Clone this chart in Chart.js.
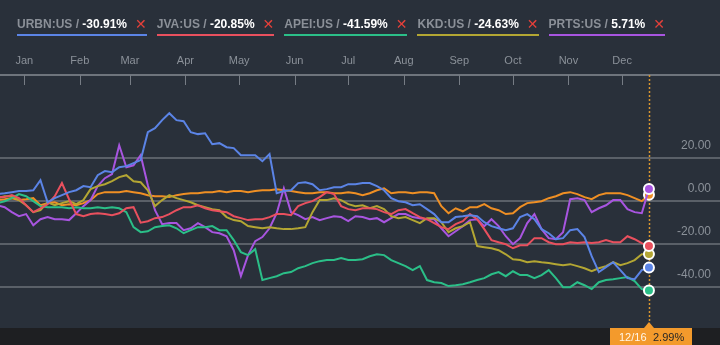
<!DOCTYPE html>
<html>
<head>
<meta charset="utf-8">
<script src="https://cdn.jsdelivr.net/npm/chart.js@4.4.1/dist/chart.umd.min.js"></script>
<style>
    html, body { margin: 0; padding: 0; background: #29303a; width: 720px; height: 345px; overflow: hidden; }
    #wrap { position: relative; width: 720px; height: 345px; }
    #chart { position: absolute; left: 0; top: 0; }
    #legend {
        position: absolute; left: 17px; top: 16px; z-index: 2;
        display: flex; gap: 10px;
        font: bold 12px "Liberation Sans", Arial, sans-serif; line-height: 15px;
    }
    .item { display: flex; align-items: center; padding-bottom: 2px; border-bottom: 2px solid; white-space: pre; }
    .tk { color: #8b9098; }
    .val { color: #ffffff; }
    .x { color: #e5403a; margin-left: 8px; font: bold 14px "DejaVu Sans", sans-serif; }
</style>
</head>
<body>
<div id="wrap">
    <canvas id="chart" width="720" height="345"></canvas>
    <div id="legend"></div>
</div>
<script>
// sample dates, as day offsets from Jan 1 (every 4 days, Dec 16 prev year .. Dec 16)
const days = [-15, -11, -7, -3, 1, 5, 9, 13, 17, 21, 25, 29, 33, 37, 41, 45, 49, 53, 57, 61,
    65, 69, 73, 77, 81, 85, 89, 93, 97, 101, 105, 109, 113, 117, 121, 125, 129, 133, 137, 141,
    145, 149, 153, 157, 161, 165, 169, 173, 177, 181, 185, 189, 193, 197, 201, 205, 209, 213, 217, 221,
    225, 229, 233, 237, 241, 245, 249, 253, 257, 261, 265, 269, 273, 277, 281, 285, 289, 293, 297, 301,
    305, 309, 313, 317, 321, 325, 329, 333, 337, 341, 345, 349];

const monthStarts = [0, 31, 59, 90, 120, 151, 181, 212, 243, 273, 304, 334];
const monthNames = ['Jan', 'Feb', 'Mar', 'Apr', 'May', 'Jun', 'Jul', 'Aug', 'Sep', 'Oct', 'Nov', 'Dec'];
const yTicks = [-40, -20, 0, 20];

// % change series
const urbn = [3.3, 3.7, 4.2, 4.7, 4.7, 5.1, 9.8, -0.5, 1.4, 2.8,
    4.2, 5.1, 7.0, 6.5, 12.1, 14.0, 13.5, 15.8, 16.3, 17.7,
    19.1, 32.1, 34.0, 37.7, 40.9, 37.7, 37.2, 32.1, 31.2, 31.6,
    26.5, 27.0, 25.1, 24.7, 21.4, 21.4, 21.4, 18.6, 21.9, 3.7,
    4.7, 5.1, 8.4, 8.8, 7.9, 5.1, 5.6, 6.5, 6.5, 7.9,
    7.9, 8.4, 8.4, 7.0, 5.1, 1.4, 0, -0.5, -1.9, -1.4,
    -3.7, -6.0, -9.8, -9.8, -7.4, -7.0, -6.5, -7.0, -9.8, -11.6,
    -12.6, -13.5, -12.6, -7.4, -6.0, -8.4, -13.0, -14.9, -17.7, -17.2,
    -13.5, -13.0, -16.7, -25.6, -33.0, -30.7, -28.4, -32.1, -35.8, -36.3,
    -32.1, -30.91];

const jva = [1.9, 1.9, 2.8, 1.4, -1.9, -5.1, -3.3, -1.4, 2.3, 8.4,
    0.9, -6.0, -7.0, -6.0, -5.6, -6.0, -6.5, -5.6, -3.3, -2.8,
    -10.0, -9.3, -7.9, -7.4, -6.0, -4.2, -2.8, -2.8, -1.9, -3.3,
    -4.2, -4.7, -5.1, -7.0, -7.9, -8.8, -8.4, -8.4, -7.4, -6.0,
    -6.0, -6.5, -2.3, -0.9, 0, 1.9, 4.2, 3.3, -2.3, -3.7,
    -4.2, -3.3, -3.3, -3.7, -5.1, -6.0, -4.2, -3.7, -5.6, -7.4,
    -8.4, -10.2, -12.1, -13.0, -10.7, -9.3, -6.0, -8.4, -13.0, -18.1,
    -19.1, -20.0, -21.9, -20.5, -20.5, -17.2, -17.2, -19.1, -20.0, -20.0,
    -19.1, -19.5, -19.1, -19.5, -19.1, -18.1, -19.1, -19.1, -16.3, -17.7,
    -19.5, -20.85];

const apei = [-0.9, 0, 1.4, 3.3, 2.3, 0, -2.3, -2.8, -2.8, -2.8,
    -3.3, -2.8, -3.3, -3.3, -2.8, -3.3, -2.8, -3.3, -5.1, -12.1,
    -14.4, -14.0, -12.1, -11.6, -11.2, -12.6, -14.9, -13.5, -12.1, -12.1,
    -11.6, -13.5, -13.5, -18.1, -23.7, -25.1, -22.3, -36.7, -35.8, -34.9,
    -33.5, -33.0, -31.2, -30.2, -28.8, -27.9, -27.4, -27.4, -26.5, -27.4,
    -27.4, -27.0, -25.6, -24.7, -25.1, -27.4, -28.8, -30.2, -32.1, -30.2,
    -36.7, -37.7, -38.1, -39.5, -39.1, -38.6, -37.7, -36.7, -35.8, -34.0,
    -33.0, -34.9, -32.6, -34.4, -34.4, -35.8, -34.4, -32.1, -35.8, -40.0,
    -40.0, -37.7, -39.1, -40.9, -37.7, -36.7, -36.3, -35.8, -35.3, -37.2,
    -40.9, -41.59];

const kkd = [1.4, 2.3, 2.3, 0.5, -1.9, -5.1, -4.2, -0.5, -1.9, -0.9,
    0, -1.4, 0.5, 5.6, 7.0, 7.9, 9.3, 11.2, 12.1, 9.3,
    8.8, 5.1, -2.3, 0.5, 2.8, 1.4, 0.5, -0.5, -1.9, -2.8,
    -3.7, -4.2, -7.4, -8.8, -9.3, -11.6, -12.1, -12.6, -12.1, -12.6,
    -13.0, -13.0, -12.6, -12.1, -5.1, 0.5, 0.5, 1.4, 0.5, -1.4,
    -2.3, -1.9, -3.3, -2.3, -3.7, -7.0, -7.9, -7.4, -8.8, -10.2,
    -7.9, -7.9, -9.8, -14.4, -12.6, -11.6, -9.8, -20.9, -21.4, -21.9,
    -22.8, -24.7, -27.0, -27.4, -28.4, -27.9, -28.4, -28.8, -29.3, -29.8,
    -29.3, -30.2, -31.2, -32.6, -31.2, -30.2, -28.4, -29.8, -28.8, -27.4,
    -24.7, -24.63];

const prts = [-1.9, -2.8, -5.1, -7.0, -6.0, -11.2, -8.4, -7.4, -8.4, -8.4,
    -8.8, -5.6, -2.3, 0.5, 7.0, 10.7, 12.6, 26.0, 15.8, 16.7,
    21.4, 7.4, -4.2, -10.7, -10.2, -10.2, -13.5, -12.6, -10.2, -12.1,
    -14.4, -14.9, -16.3, -22.8, -34.9, -25.1, -18.6, -16.7, -12.6, -5.6,
    6.0, -5.1, -6.5, -8.4, -7.4, -8.8, -7.9, -7.0, -7.4, -9.3,
    -7.0, -7.4, -8.4, -7.9, -9.8, -7.9, -6.0, -6.0, -7.4, -7.9,
    -8.4, -8.4, -12.6, -16.3, -14.0, -11.6, -8.8, -8.4, -11.6, -8.4,
    -11.6, -16.3, -20.0, -17.2, -10.2, -6.0, -13.0, -17.2, -17.7, -14.4,
    0.9, 1.4, 0.5, -5.1, -3.3, -1.9, 0.5, 0.5, -3.7, -5.1,
    -5.6, 5.71];

// benchmark line (the one shown in the bottom value box)
const bench = [0.5, 0.9, 1.4, 0.5, 0.9, 1.4, -1.9, -0.9, -0.5, -1.9,
    -1.4, -1.9, -0.9, 0.5, 3.3, 4.2, 4.2, 4.2, 4.7, 4.2,
    3.7, 2.8, 2.3, 2.3, 1.9, 2.8, 3.3, 3.7, 3.7, 4.2,
    4.2, 4.7, 4.2, 4.7, 4.7, 4.2, 4.7, 5.1, 5.1, 5.6,
    5.1, 4.7, 4.2, 3.7, 3.7, 4.2, 4.2, 3.7, 3.7, 4.2,
    3.7, 2.8, 3.7, 5.1, 6.0, 3.7, 4.2, 4.2, 3.7, 4.2,
    4.2, 3.7, -2.3, -5.6, -3.3, -4.7, -2.8, -2.8, -1.4, -3.3,
    -4.2, -6.0, -5.6, -2.8, -0.9, -0.5, 0, 1.4, 2.3, 3.7,
    4.2, 3.3, 1.9, 0.9, 2.8, 3.7, 3.7, 3.7, 2.8, 1.4,
    0, 2.99];

const tickers = ['URBN:US', 'JVA:US', 'APEI:US', 'KKD:US', 'PRTS:US'];
const tickerSeries = [urbn, jva, apei, kkd, prts];
const colors = ['#5b84e6', '#e9505e', '#2bbf88', '#b3a633', '#a855e0'];
const benchColor = '#ef8f24';

const last = days.length - 1;

// legend
const legendEl = document.getElementById('legend');
tickers.forEach((t, i) => {
    const v = tickerSeries[i][last];
    const item = document.createElement('div');
    item.className = 'item';
    item.style.borderColor = colors[i];
    item.innerHTML = '<span class="tk">' + t + ' / </span><span class="val">' +
        v.toFixed(2) + '%</span><span class="x">\u2715</span>';
    legendEl.appendChild(item);
});

const toPoints = (vals) => vals.map((v, i) => ({ x: days[i], y: v }));

const makeSet = (label, vals, color) => ({
    label: label,
    data: toPoints(vals),
    borderColor: color,
    backgroundColor: color,
    borderWidth: 2,
    tension: 0,
    pointRadius: (c) => c.dataIndex === last ? 5 : 0,
    pointBorderColor: '#ffffff',
    pointBorderWidth: 2,
    pointBackgroundColor: color
});

const datasets = tickers.map((t, i) => makeSet(t, tickerSeries[i], colors[i]));
datasets.push(makeSet('Index', bench, benchColor));

const dateLabel = (day) => {
    let m = 0;
    monthStarts.forEach((s, i) => { if (day >= s) { m = i; } });
    return (m + 1) + '/' + (day - monthStarts[m] + 1);
};

const framePlugin = {
    id: 'frame',
    beforeDraw(chart) {
        const { ctx, chartArea: a, width, height } = chart;
        ctx.save();
        ctx.fillStyle = '#29303a';
        ctx.fillRect(0, 0, width, height);
        ctx.fillStyle = '#1e1f22';
        ctx.fillRect(0, a.bottom, width, height - a.bottom);
        ctx.restore();
    },
    beforeDatasetsDraw(chart) {
        const { ctx, chartArea: a, scales: { x } } = chart;
        ctx.save();
        // month tick marks hang down into the plot
        ctx.strokeStyle = '#767c84';
        ctx.lineWidth = 1;
        x.ticks.forEach(t => {
            const px = Math.round(x.getPixelForValue(t.value)) + 0.5;
            ctx.beginPath();
            ctx.moveTo(px, a.top);
            ctx.lineTo(px, a.top + 10);
            ctx.stroke();
        });
        // dotted cursor at the last date
        const cx = Math.round(x.getPixelForValue(days[last])) + 0.5;
        ctx.strokeStyle = '#d89530';
        ctx.lineWidth = 1.5;
        ctx.setLineDash([2, 2]);
        ctx.beginPath();
        ctx.moveTo(cx, a.top);
        ctx.lineTo(cx, a.bottom - 5);
        ctx.stroke();
        ctx.restore();
    },
    afterDraw(chart) {
        const { ctx, chartArea: a, height, scales: { x } } = chart;
        const cx = Math.round(x.getPixelForValue(days[last]));
        ctx.save();
        ctx.fillStyle = '#f39a2c';
        ctx.fillRect(cx - 39, a.bottom, 82, height - a.bottom);
        ctx.beginPath();
        ctx.moveTo(cx - 5, a.bottom);
        ctx.lineTo(cx, a.bottom - 6);
        ctx.lineTo(cx + 5, a.bottom);
        ctx.closePath();
        ctx.fill();
        ctx.font = '11px "Liberation Sans", Arial, sans-serif';
        ctx.textBaseline = 'middle';
        ctx.textAlign = 'left';
        const ty = a.bottom + 9.5;
        ctx.fillStyle = '#fff6e8';
        ctx.fillText(dateLabel(days[last]), cx - 30, ty);
        ctx.fillStyle = '#262626';
        ctx.fillText(bench[last].toFixed(2) + '%', cx + 4, ty);
        ctx.restore();
    }
};

new Chart(document.getElementById('chart'), {
    type: 'line',
    data: { datasets },
    options: {
        responsive: false,
        animation: false,
        devicePixelRatio: 1,
        layout: { autoPadding: false, padding: { top: 47, bottom: 17, left: 0, right: 0 } },
        plugins: { legend: { display: false }, tooltip: { enabled: false } },
        scales: {
            x: {
                type: 'linear',
                position: 'top',
                min: -13.6,
                max: 388.7,
                afterBuildTicks: (s) => { s.ticks = monthStarts.map(v => ({ value: v })); },
                afterFit: (s) => { s.paddingLeft = 0; s.paddingRight = 0; },
                ticks: {
                    callback: (v) => monthNames[monthStarts.indexOf(v)],
                    color: '#8b9199',
                    font: { family: '"Liberation Sans", Arial, sans-serif', size: 11, lineHeight: '28px' },
                    padding: 0,
                    maxRotation: 0,
                    autoSkip: false
                },
                grid: { display: false, drawTicks: false },
                border: { display: true, color: '#6e747c', width: 2 }
            },
            y: {
                position: 'right',
                min: -59,
                max: 58.7,
                afterBuildTicks: (s) => { s.ticks = yTicks.map(v => ({ value: v })); },
                afterFit: (s) => { s.width = 0; },
                ticks: {
                    mirror: true,
                    padding: -9,
                    labelOffset: -12,
                    callback: (v) => v.toFixed(2),
                    color: '#8b9199',
                    font: { family: '"Liberation Sans", Arial, sans-serif', size: 12 }
                },
                grid: { color: '#5a6068', lineWidth: 2, drawTicks: false },
                border: { display: false }
            }
        }
    },
    plugins: [framePlugin]
});
</script>
</body>
</html>
